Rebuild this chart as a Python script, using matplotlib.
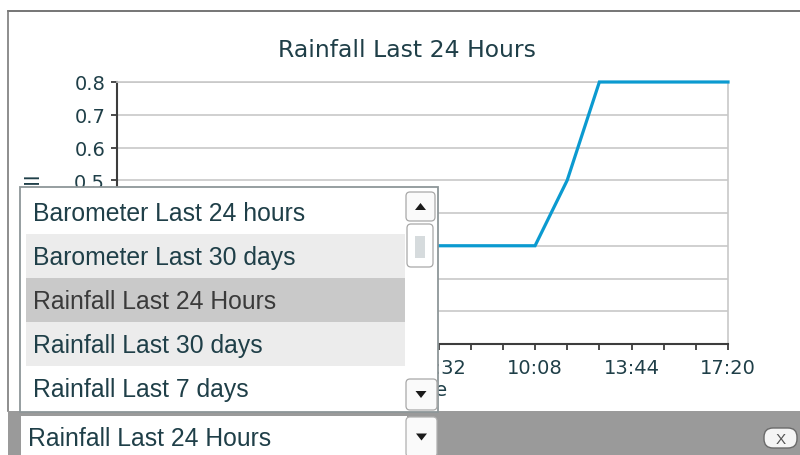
import matplotlib
matplotlib.use("Agg")
import matplotlib.pyplot as plt
import matplotlib.dates as mdates
from matplotlib.patches import Rectangle, FancyBboxPatch, Polygon
from matplotlib.lines import Line2D
from matplotlib.transforms import Affine2D
import pandas as pd

# ---------------- data ----------------
chart_title = "Rainfall Last 24 Hours"
y_label = "Rainfall"
x_label = "Time"
times = ["2024-05-01 18:32", "2024-05-02 10:08", "2024-05-02 11:20",
         "2024-05-02 12:32", "2024-05-02 17:20"]
rain = [0.3, 0.3, 0.5, 0.8, 0.8]
x_start = "2024-05-01 18:32"
x_end = "2024-05-02 17:20"
y_ticks = [0.0, 0.1, 0.2, 0.3, 0.4, 0.5, 0.6, 0.7, 0.8]
menu_items = ["Barometer Last 24 hours", "Barometer Last 30 days",
              "Rainfall Last 24 Hours", "Rainfall Last 30 days",
              "Rainfall Last 7 days"]
selected_item = "Rainfall Last 24 Hours"
row_fills = ["#ffffff", "#ececec", "#c9c9c9", "#ececec", "#ffffff"]

TEXT = "#1f3f48"
W, H = 800, 456

fig = plt.figure(figsize=(W / 100, H / 100), dpi=100)
fig.patch.set_facecolor("white")
# pixel transform, origin top-left
T = Affine2D().scale(1 / 100, -1 / 100).translate(0, H / 100) + fig.dpi_scale_trans

L, R, TOP, BOT = 117, 728, 83, 345
ax = fig.add_axes([L / W, 1 - BOT / H, (R - L) / W, (BOT - TOP) / H])

tx = pd.to_datetime(times)
ax.plot(tx, rain, color="#0b9ad0", lw=2.3, solid_joinstyle="miter", zorder=3, clip_on=False)

ax.set_xlim(pd.Timestamp(x_start), pd.Timestamp(x_end))
ax.set_ylim(min(y_ticks), max(y_ticks))
ax.set_yticks(y_ticks)
ax.set_yticklabels([f"{v:.1f}" for v in y_ticks])

major = pd.date_range(end=x_end, periods=7, freq="216min")
minor = pd.date_range(start=x_start, end=x_end, freq="72min")
ax.xaxis.set_major_locator(matplotlib.ticker.FixedLocator(mdates.date2num(major)))
ax.xaxis.set_minor_locator(matplotlib.ticker.FixedLocator(mdates.date2num(minor)))
ax.xaxis.set_major_formatter(mdates.DateFormatter("%H:%M"))

ax.yaxis.grid(True, color="#c8c8c8", lw=1.2)
ax.set_axisbelow(True)
for s in ("top", "right"):
    ax.spines[s].set_color("#c8c8c8")
    ax.spines[s].set_linewidth(1.2)
for s in ("left", "bottom"):
    ax.spines[s].set_color("#3d3d3d")
    ax.spines[s].set_linewidth(1.5)
ax.tick_params(axis="both", which="both", direction="out", length=4, width=1.3,
               color="#3d3d3d", labelcolor=TEXT, labelsize=14)
ax.tick_params(axis="y", pad=4.5)
ax.tick_params(axis="x", pad=6)

ax.set_ylabel(y_label, fontsize=14.6, color=TEXT, va="center")
ax.yaxis.set_label_coords((33 - L) / (R - L), 0.5 + 4 / (BOT - TOP))
ax.set_xlabel(x_label, fontsize=14.4, color=TEXT, va="center")
ax.xaxis.set_label_coords(0.5, (BOT - 391) / (BOT - TOP))

fig.text(407, 57, chart_title, transform=T, ha="center", va="baseline",
         fontsize=16.9, color=TEXT)

Z = 10
def rect(x, y, w, h, fc, ec="none", lw=0, z=Z):
    p = Rectangle((x, y), w, h, transform=T, fc=fc, ec=ec, lw=lw, zorder=z)
    fig.add_artist(p)

def rbox(x, y, w, h, fc, ec, r=3, lw=0.9, z=Z + 1):
    p = FancyBboxPatch((x, y), w, h, boxstyle=f"round,pad=0,rounding_size={r}",
                       transform=T, fc=fc, ec=ec, lw=lw, zorder=z)
    fig.add_artist(p)

def tri(cx, cy, up, z=Z + 2):
    if up:
        pts = [(cx - 5.5, cy + 3.5), (cx + 5.5, cy + 3.5), (cx, cy - 3.5)]
    else:
        pts = [(cx - 5.5, cy - 3.5), (cx + 5.5, cy - 3.5), (cx, cy + 3.5)]
    fig.add_artist(Polygon(pts, closed=True, transform=T, fc="#1a1a1a", ec="none", zorder=z))

# outer frame lines
fig.add_artist(Line2D([8, 800], [12, 12], transform=T, color="#5e5e5e", lw=1.2, zorder=Z))
fig.add_artist(Line2D([8, 8], [12, 412], transform=T, color="#7a7a7a", lw=1.2, zorder=Z))

# bottom bar
rect(8, 412, 792, 44, "#9a9a9a")
rect(21, 417, 386, 39, "#ffffff", z=Z + 1)
rbox(406, 418, 31, 40, "#fafafa", "#b0b0b0", r=4)
tri(421.5, 438, up=False)
fig.text(28, 439, selected_item, transform=T, ha="left", va="center",
         fontsize=17.8, family="Liberation Sans", color=TEXT, zorder=Z + 2)

# close button
rbox(764, 429, 33, 20, "#f5f5f5", "#6a6a6a", r=9, lw=1.0)
fig.text(780.5, 439.5, "X", transform=T, ha="center", va="center",
         fontsize=11, family="Liberation Sans", color="#555555", zorder=Z + 2)

# dropdown list
rect(20, 188, 418, 225, "#ffffff", ec="#8d9698", lw=1.3)
row_top, row_h = 191, 44
for i, (item, fc) in enumerate(zip(menu_items, row_fills)):
    y0 = row_top + i * row_h
    rect(26, y0, 379, row_h, fc, z=Z + 1)
    col = "#3a3a3a" if item == selected_item else TEXT
    fig.text(33, y0 + row_h / 2 + 1, item, transform=T, ha="left", va="center",
             fontsize=17.8, family="Liberation Sans", color=col, zorder=Z + 2)

# scrollbar
rbox(406, 193, 29, 29, "#fafafa", "#a8a8a8", r=4)
tri(420.5, 207.5, up=True)
rbox(407, 225, 26, 43, "#ffffff", "#a8a8a8", r=4)
rect(415, 237, 10, 22, "#d6dbdd", z=Z + 2)
rbox(406, 380, 31, 31, "#fafafa", "#a8a8a8", r=4)
tri(421, 395.5, up=False)

fig.savefig("out.png", dpi=100)
